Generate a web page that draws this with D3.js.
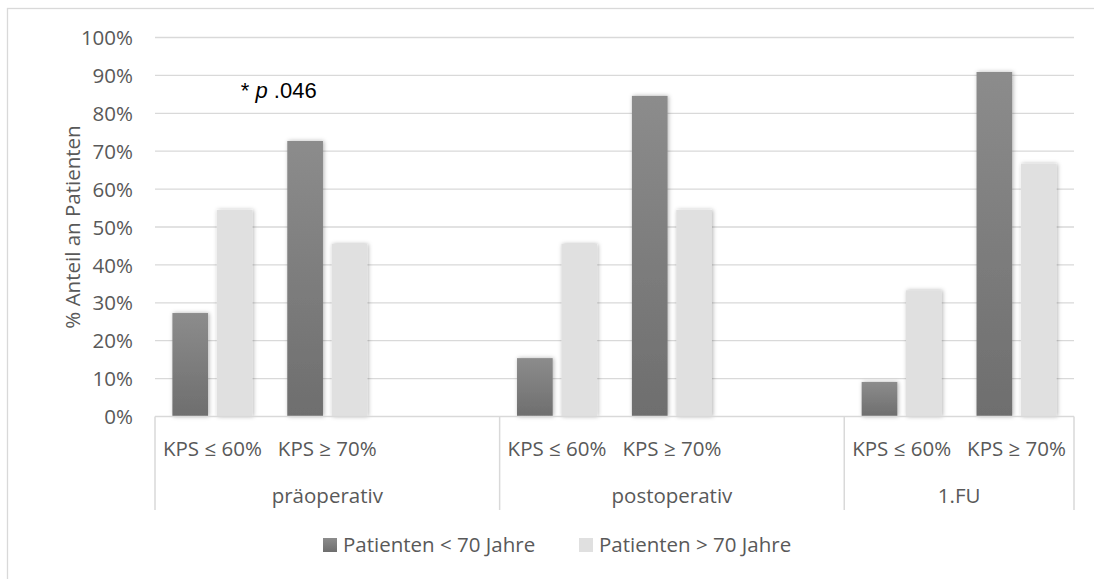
<!DOCTYPE html>
<html>
<head>
<meta charset="utf-8">
<script src="https://cdn.jsdelivr.net/npm/d3@7"></script>
<style>
  body { margin: 0; background: #fff; }
  svg { display: block; }
</style>
</head>
<body>
<svg id="chart"></svg>
<script>
// Data (one entry per category slot, blank slots kept as in the source sheet)
const categoryGroups = ["präoperativ", "präoperativ", "präoperativ", "postoperativ", "postoperativ", "postoperativ", "1.FU", "1.FU"];
const categoryLabels = ["KPS ≤ 60%", "KPS ≥ 70%", "", "KPS ≤ 60%", "KPS ≥ 70%", "", "KPS ≤ 60%", "KPS ≥ 70%"];
const under70 = [27.3, 72.7, null, 15.4, 84.6, null, 9.1, 90.9];
const over70 = [54.5, 45.5, null, 45.5, 54.5, null, 33.3, 66.7];
const seriesNames = ["Patienten < 70 Jahre", "Patienten > 70 Jahre"];
const yTicks = [0, 10, 20, 30, 40, 50, 60, 70, 80, 90, 100];
const annotation = { value: 86.2, slot: 0 };

const width = 1094, height = 579;
const plot = { left: 155, right: 1074, top: 37.5, bottom: 416.5 };
const font = "'Open Sans', sans-serif";
const textColor = "#595959";
const gridColor = "#d9d9d9";

const svg = d3.select("#chart").attr("width", width).attr("height", height);
const defs = svg.append("defs");

// Gradient for the darker series and a soft shadow like the original
const grad = defs.append("linearGradient").attr("id", "darkGrad")
  .attr("x1", 0).attr("y1", 0).attr("x2", 0).attr("y2", 1);
grad.append("stop").attr("offset", "0%").attr("stop-color", "#8c8c8c");
grad.append("stop").attr("offset", "100%").attr("stop-color", "#6e6e6e");

const shadow = defs.append("filter").attr("id", "shadow")
  .attr("x", "-30%").attr("y", "-10%").attr("width", "160%").attr("height", "120%");
shadow.append("feDropShadow").attr("dx", 1).attr("dy", 0).attr("stdDeviation", 2)
  .attr("flood-color", "#000").attr("flood-opacity", 0.3);

// Outer chart border (cut off at right/bottom like the screenshot)
svg.append("rect")
  .attr("x", 7.5).attr("y", 8.5).attr("width", 1100).attr("height", 600)
  .attr("fill", "none").attr("stroke", gridColor).attr("stroke-width", 1.3);

// Scales
const slots = d3.range(categoryLabels.length);
const x0 = d3.scaleBand().domain(slots).range([plot.left, plot.right]).padding(0);
const x1 = d3.scaleBand().domain([0, 1]).range([0, x0.bandwidth()])
  .paddingInner(0.196).paddingOuter(0.392);
const y = d3.scaleLinear().domain([0, 100]).range([plot.bottom, plot.top]);

// Gridlines
svg.append("g")
  .selectAll("line")
  .data(yTicks.filter((d) => d > 0))
  .join("line")
  .attr("x1", plot.left).attr("x2", plot.right)
  .attr("y1", (d) => y(d)).attr("y2", (d) => y(d))
  .attr("stroke", gridColor).attr("stroke-width", 1.3);

// Y axis labels
const yAxis = svg.append("g")
  .attr("transform", `translate(${plot.left - 22},0)`)
  .call(d3.axisLeft(y).tickValues(yTicks).tickSize(0).tickFormat((d) => d + "%"));
yAxis.select(".domain").remove();
yAxis.selectAll("text")
  .attr("x", 0).attr("dy", "0.35em")
  .style("font-family", font).style("font-size", "20.5px").attr("fill", textColor);

// Y axis title
svg.append("text")
  .attr("transform", `translate(80,${(plot.top + plot.bottom) / 2}) rotate(-90)`)
  .attr("text-anchor", "middle")
  .style("font-family", font).style("font-size", "20.5px").attr("fill", textColor)
  .text("% Anteil an Patienten");

// Bars
const seriesData = [under70, over70];
const bars = svg.append("g").attr("filter", "url(#shadow)");
seriesData.forEach((values, si) => {
  bars.append("g")
    .selectAll("rect")
    .data(slots.filter((i) => values[i] != null))
    .join("rect")
    .attr("x", (i) => x0(i) + x1(si))
    .attr("width", x1.bandwidth())
    .attr("y", (i) => y(values[i]))
    .attr("height", (i) => y(0) - y(values[i]))
    .attr("fill", si === 0 ? "url(#darkGrad)" : "#e0e0e0");
});

// X axis baseline
svg.append("line")
  .attr("x1", plot.left).attr("x2", plot.right)
  .attr("y1", plot.bottom).attr("y2", plot.bottom)
  .attr("stroke", gridColor).attr("stroke-width", 1.5);

// Category labels
svg.append("g")
  .selectAll("text")
  .data(slots.filter((i) => categoryLabels[i] !== ""))
  .join("text")
  .attr("x", (i) => x0(i) + x0.bandwidth() / 2)
  .attr("y", 449).attr("dy", "0.35em")
  .attr("text-anchor", "middle")
  .style("font-family", font).style("font-size", "20.5px").attr("fill", textColor)
  .text((i) => categoryLabels[i]);

// Group labels and dividers
const groups = Array.from(new Set(categoryGroups));
const groupExtent = groups.map((g) => {
  const idx = slots.filter((i) => categoryGroups[i] === g);
  return { name: g, x0: x0(idx[0]), x1: x0(idx[idx.length - 1]) + x0.bandwidth() };
});
const dividerX = [plot.left].concat(groupExtent.map((g) => g.x1));
svg.append("g")
  .selectAll("line")
  .data(dividerX)
  .join("line")
  .attr("x1", (d) => d).attr("x2", (d) => d)
  .attr("y1", plot.bottom).attr("y2", 510)
  .attr("stroke", gridColor).attr("stroke-width", 1.5);

svg.append("g")
  .selectAll("text")
  .data(groupExtent)
  .join("text")
  .attr("x", (d) => (d.x0 + d.x1) / 2)
  .attr("y", 496).attr("dy", "0.35em")
  .attr("text-anchor", "middle")
  .style("font-family", font).style("font-size", "20.5px").attr("fill", textColor)
  .text((d) => d.name);

// Significance annotation
const note = svg.append("text")
  .attr("x", x0(annotation.slot) + x1(1) + 24)
  .attr("y", y(annotation.value)).attr("dy", "0.35em")
  .style("font-family", "'Liberation Sans', Arial, sans-serif").style("font-size", "22px")
  .attr("fill", "#000");
note.append("tspan").text("* ");
note.append("tspan").style("font-style", "italic").text("p");
note.append("tspan").text(" .046");

// Legend
const legendX = [323, 579];
const legend = svg.append("g");
seriesNames.forEach((name, i) => {
  legend.append("rect")
    .attr("x", legendX[i]).attr("y", 538).attr("width", 14).attr("height", 14)
    .attr("fill", i === 0 ? "url(#darkGrad)" : "#e0e0e0");
  legend.append("text")
    .attr("x", legendX[i] + 20).attr("y", 545).attr("dy", "0.35em")
    .style("font-family", font).style("font-size", "20.5px").attr("fill", textColor)
    .text(name);
});
</script>
</body>
</html>
